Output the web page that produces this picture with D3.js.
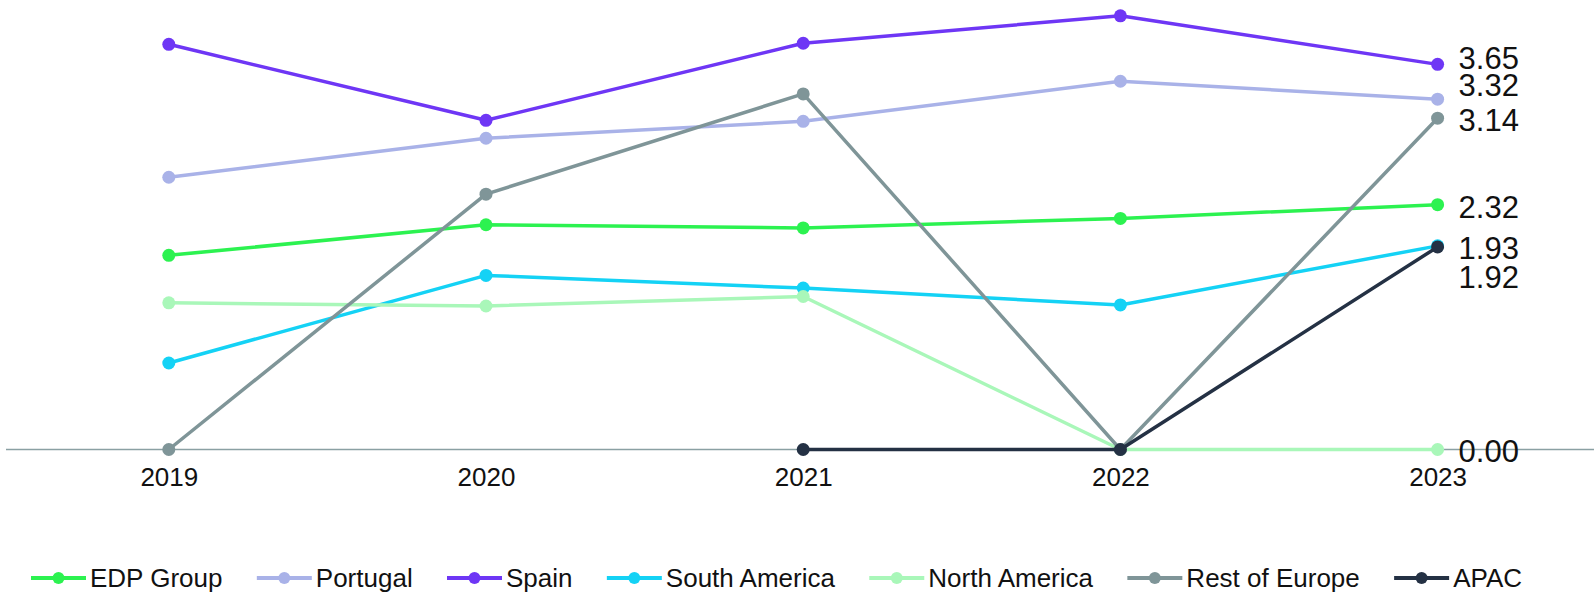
<!DOCTYPE html>
<html>
<head>
<meta charset="utf-8">
<script src="https://cdn.jsdelivr.net/npm/d3@7"></script>
<style>
  html, body { margin: 0; padding: 0; background: #fff; }
  svg { display: block; }
  text { font-family: "Liberation Sans", Arial, sans-serif; fill: #111; }
</style>
</head>
<body>
<svg id="chart" width="1594" height="597"></svg>
<script>
const years = ["2019", "2020", "2021", "2022", "2023"];
const seriesNames = ["EDP Group", "Portugal", "Spain", "South America", "North America", "Rest of Europe", "APAC"];
const edpGroup     = [1.84, 2.13, 2.10, 2.19, 2.32];
const portugal     = [2.58, 2.95, 3.11, 3.49, 3.32];
const spain        = [3.84, 3.12, 3.85, 4.11, 3.65];
const southAmerica = [0.82, 1.65, 1.53, 1.37, 1.93];
const northAmerica = [1.39, 1.36, 1.45, 0.00, 0.00];
const restOfEurope = [0.00, 2.42, 3.37, 0.00, 3.14];
const apac         = [null, null, 0.00, 0.00, 1.92];
const seriesValues = [edpGroup, portugal, spain, southAmerica, northAmerica, restOfEurope, apac];
const colors = ["#2cf250", "#a9b2e8", "#6e36f5", "#14d2f5", "#a9f7b9", "#7f9598", "#243144"];
// vertical nudge of end labels to avoid overlaps (px)
const labelShift = [2, -14, -6, 2, 2, 2, 30];

const svg = d3.select("#chart");
const x = d3.scalePoint().domain(years).range([168.8, 1437.6]);
const y = d3.scaleLinear().domain([0, 4.26]).range([449.5, 0]);

// zero axis line
svg.append("line")
  .attr("x1", 6).attr("x2", 1594)
  .attr("y1", y(0)).attr("y2", y(0))
  .attr("stroke", "#8aa0a3").attr("stroke-width", 1.5);

// x tick labels
const xAxis = d3.axisBottom(x).tickSize(0).tickPadding(0);
const gx = svg.append("g").attr("transform", `translate(0,${y(0)})`).call(xAxis);
gx.select(".domain").remove();
gx.selectAll("text")
  .attr("font-size", 26)
  .attr("y", 36.5)
  .attr("dy", 0)
  .style("font-family", "'Liberation Sans', Arial, sans-serif")
  .attr("fill", "#111");

const line = d3.line()
  .defined(d => d.v !== null)
  .x(d => x(d.year))
  .y(d => y(d.v));

const data = seriesNames.map((name, i) => ({
  name, color: colors[i], shift: labelShift[i],
  points: years.map((yr, j) => ({ year: yr, v: seriesValues[i][j] }))
}));

data.forEach(s => {
  const g = svg.append("g");
  g.append("path")
    .attr("d", line(s.points))
    .attr("fill", "none")
    .attr("stroke", s.color)
    .attr("stroke-width", 3.5)
    .attr("stroke-linejoin", "round");
  g.selectAll("circle")
    .data(s.points.filter(p => p.v !== null))
    .join("circle")
    .attr("cx", d => x(d.year))
    .attr("cy", d => y(d.v))
    .attr("r", 6.5)
    .attr("fill", s.color);
});

// end labels
data.forEach(s => {
  const last = s.points[s.points.length - 1];
  svg.append("text")
    .attr("x", x(last.year) + 21)
    .attr("y", y(last.v) + s.shift)
    .attr("dy", "0.35em")
    .attr("font-size", 31)
    .text(last.v.toFixed(2));
});

// legend
const legendStart = 31, legendEnd = 1522, symW = 55, textOff = 59;
const legend = svg.append("g").attr("transform", `translate(${legendStart},578)`);
const items = data.map(s => {
  const g = legend.append("g");
  g.append("line").attr("x1", 0).attr("x2", symW).attr("y1", 0).attr("y2", 0)
    .attr("stroke", s.color).attr("stroke-width", 4);
  g.append("circle").attr("cx", symW / 2).attr("cy", 0).attr("r", 6).attr("fill", s.color);
  const t = g.append("text").attr("x", textOff).attr("dy", "0.35em")
    .attr("font-size", 26).text(s.name);
  return { g, w: textOff + t.node().getComputedTextLength() };
});
const totalW = d3.sum(items, d => d.w);
const gap = (legendEnd - legendStart - totalW) / (items.length - 1);
let lx = 0;
items.forEach(it => {
  it.g.attr("transform", `translate(${lx},0)`);
  lx += it.w + gap;
});
</script>
</body>
</html>
